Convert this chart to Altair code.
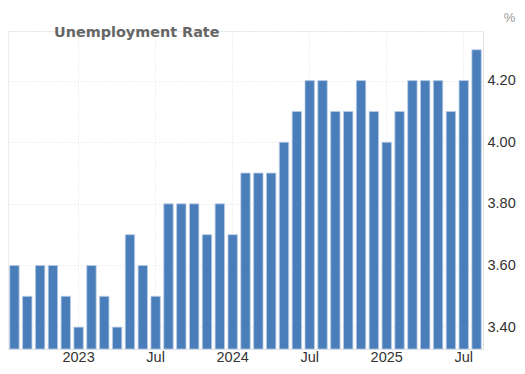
import altair as alt
import pandas as pd

months = [
    "2022-08", "2022-09", "2022-10", "2022-11", "2022-12",
    "2023-01", "2023-02", "2023-03", "2023-04", "2023-05", "2023-06",
    "2023-07", "2023-08", "2023-09", "2023-10", "2023-11", "2023-12",
    "2024-01", "2024-02", "2024-03", "2024-04", "2024-05", "2024-06",
    "2024-07", "2024-08", "2024-09", "2024-10", "2024-11", "2024-12",
    "2025-01", "2025-02", "2025-03", "2025-04", "2025-05", "2025-06",
    "2025-07", "2025-08",
]
rates = [
    3.6, 3.5, 3.6, 3.6, 3.5,
    3.4, 3.6, 3.5, 3.4, 3.7, 3.6,
    3.5, 3.8, 3.8, 3.8, 3.7, 3.8,
    3.7, 3.9, 3.9, 3.9, 4.0, 4.1,
    4.2, 4.2, 4.1, 4.1, 4.2, 4.1,
    4.0, 4.1, 4.2, 4.2, 4.2, 4.1,
    4.2, 4.3,
]
tick_months = ["2023-01", "2023-07", "2024-01", "2024-07", "2025-01", "2025-07"]
tick_labels = ["2023", "Jul", "2024", "Jul", "2025", "Jul"]
y_ticks = [3.4, 3.6, 3.8, 4.0, 4.2]
y_domain = [3.329, 4.361]

df = pd.DataFrame({"month": months, "rate": rates})

label_expr = ""
for m, lab in zip(tick_months, tick_labels):
    label_expr += f"datum.value === '{m}' ? '{lab}' : "
label_expr += "''"

W, H = 475, 318

bars = alt.Chart(df).mark_bar(
    color="#4a7ebb", stroke="#b9cbe4", strokeWidth=0.8
).encode(
    x=alt.X(
        "month:O",
        sort=months,
        scale=alt.Scale(paddingInner=0.27, paddingOuter=0.135),
        axis=alt.Axis(
            title=None,
            values=tick_months,
            labelExpr=label_expr,
            labelAngle=0,
            ticks=False,
            grid=True,
            bandPosition=0.5,
            gridColor="#e3e3e3",
            gridDash=[1, 2],
            domainColor="#e0e0e0",
            labelFont="Liberation Sans",
            labelFontSize=14.5,
            labelColor="#333333",
            labelBaseline="alphabetic",
            labelPadding=12,
        ),
    ),
    y=alt.Y(
        "rate:Q",
        scale=alt.Scale(domain=y_domain, zero=False, nice=False),
        axis=alt.Axis(
            orient="right",
            title="%",
            titleAngle=0,
            titleX=26,
            titleY=-14,
            titleAlign="center",
            titleBaseline="middle",
            titleColor="#999999",
            titleFontWeight="normal",
            titleFont="Liberation Sans",
            titleFontSize=13,
            values=y_ticks + [y_domain[1]],
            labelExpr="datum.value > 4.3 ? '' : format(datum.value, '.2f')",
            ticks=False,
            grid=True,
            gridColor="#e3e3e3",
            gridDash=[1, 2],
            domainColor="#e0e0e0",
            labelFont="Liberation Sans",
            labelFontSize=14.5,
            labelColor="#333333",
            labelPadding=4,
        ),
    ),
    y2=alt.datum(y_domain[0]),
)

title = alt.Chart(pd.DataFrame({"t": ["Unemployment Rate"]})).mark_text(
    align="left", baseline="middle", font="DejaVu Sans", fontWeight="bold",
    fontSize=14.4, color="#666666",
).encode(
    text="t:N",
    x=alt.value(46),
    y=alt.value(2),
)

chart = alt.layer(bars, title).properties(
    width=W,
    height=H,
    autosize=alt.AutoSizeParams(type="none"),
    padding={"left": 0, "top": 23, "right": 509 - W, "bottom": 358 - 23 - H},
).configure_view(stroke="#eeeeee")

chart.save("out.html", embed_options={"renderer": "svg", "actions": False})
